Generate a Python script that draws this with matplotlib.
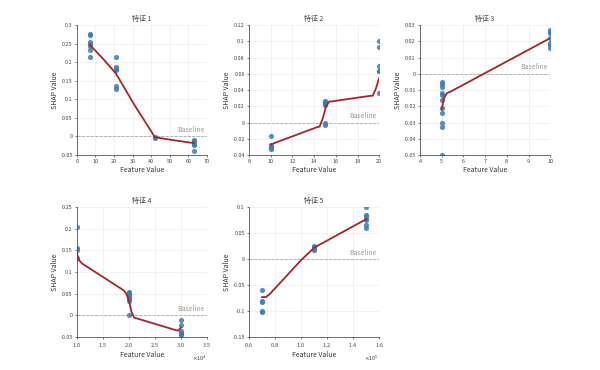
import numpy as np
import matplotlib.pyplot as plt
from matplotlib.ticker import ScalarFormatter

plt.rcParams['font.family'] = ['Noto Sans CJK SC', 'DejaVu Sans']

titles = ["特征 1", "特征 2", "特征 3", "特征 4", "特征 5"]

# scatter points (feature value, shap value)
f1_x = [7, 7, 7, 7, 7, 7, 7, 21, 21, 21, 21, 21, 21, 42, 42, 63, 63, 63, 63, 63]
f1_y = [0.275, 0.273, 0.255, 0.25, 0.245, 0.232, 0.215,
        0.213, 0.188, 0.183, 0.18, 0.137, 0.127,
        -0.002, -0.003, -0.01, -0.013, -0.02, -0.022, -0.04]
f1_line_x = [7, 14, 21, 31, 42, 52, 63]
f1_line_y = [0.247, 0.21, 0.17, 0.085, -0.002, -0.01, -0.018]

f2_x = [10, 10, 10, 10, 10, 15, 15, 15, 15, 15, 15, 20, 20, 20, 20, 20, 20]
f2_y = [-0.016, -0.028, -0.03, -0.031, -0.033,
        0.027, 0.025, 0.023, 0.022, -0.001, -0.003,
        0.101, 0.093, 0.07, 0.064, 0.063, 0.036]
f2_line_x = [10, 14.2, 14.5, 14.8, 15.1, 15.4, 15.6, 19.2, 19.4, 19.7, 20]
f2_line_y = [-0.027, -0.006, -0.005, 0.005, 0.02, 0.026, 0.026, 0.033, 0.033, 0.042, 0.055]

f3_x = [5] * 11 + [10] * 7
f3_y = [-0.005, -0.006, -0.008, -0.012, -0.013, -0.016, -0.021, -0.024, -0.03, -0.033, -0.05,
        0.027, 0.026, 0.025, 0.022, 0.019, 0.018, 0.016]
f3_line_x = [5, 5.1, 5.25, 5.4, 10]
f3_line_y = [-0.022, -0.015, -0.0118, -0.011, 0.022]

f4_x = [10000] * 4 + [20000] * 7 + [30000] * 6
f4_y = [0.205, 0.155, 0.15, 0.132,
        0.055, 0.052, 0.048, 0.043, 0.038, 0.033, 0.0,
        -0.01, -0.022, -0.035, -0.04, -0.043, -0.045]
f4_line_x = [10000, 10400, 11000, 19000, 19500, 20000, 20500, 21000, 29000, 29500, 30000]
f4_line_y = [0.145, 0.128, 0.12, 0.058, 0.05, 0.035, 0.008, -0.005, -0.034, -0.035, -0.028]

f5_x = [70000] * 5 + [110000] * 4 + [150000] * 7
f5_y = [-0.06, -0.08, -0.082, -0.1, -0.102,
        0.025, 0.023, 0.02, 0.018,
        0.1, 0.085, 0.083, 0.077, 0.075, 0.065, 0.06]
f5_line_x = [70000, 73000, 76000, 100000, 110000, 150000]
f5_line_y = [-0.073, -0.073, -0.067, -0.002, 0.022, 0.077]

xs = [f1_x, f2_x, f3_x, f4_x, f5_x]
ys = [f1_y, f2_y, f3_y, f4_y, f5_y]
lxs = [f1_line_x, f2_line_x, f3_line_x, f4_line_x, f5_line_x]
lys = [f1_line_y, f2_line_y, f3_line_y, f4_line_y, f5_line_y]

xlims = [(0, 70), (8, 20), (4, 10), (10000, 35000), (60000, 160000)]
ylims = [(-0.05, 0.3), (-0.04, 0.12), (-0.05, 0.03), (-0.05, 0.25), (-0.15, 0.1)]
xticks = [np.arange(0, 71, 10), np.arange(8, 21, 2), np.arange(4, 11, 1),
          np.arange(10000, 35001, 5000), np.arange(60000, 160001, 20000)]
yticks = [np.arange(-0.05, 0.301, 0.05), np.arange(-0.04, 0.121, 0.02), np.arange(-0.05, 0.031, 0.01),
          np.arange(-0.05, 0.251, 0.05), np.arange(-0.15, 0.101, 0.05)]

# axes positions in figure fractions
positions = [(0.128, 0.581), (0.415, 0.581), (0.70, 0.581),
             (0.128, 0.089), (0.415, 0.089)]
w, h = 0.217, 0.351

fig = plt.figure(figsize=(6, 3.7), dpi=100)
for i in range(5):
    ax = fig.add_axes([positions[i][0], positions[i][1], w, h])
    ax.grid(True, color='#ececec', linewidth=0.5)
    ax.set_axisbelow(True)
    ax.axhline(0, color='#aaaaaa', linestyle='--', linewidth=0.6, zorder=1)
    ax.scatter(xs[i], ys[i], s=14, color='#3a7db3', alpha=0.85, linewidths=0, zorder=2)
    ax.plot(lxs[i], lys[i], color='#a3262a', linewidth=1.3, zorder=3)
    ax.set_xlim(xlims[i])
    ax.set_ylim(ylims[i])
    ax.set_xticks(xticks[i])
    ax.set_yticks(yticks[i])
    if i >= 3:
        fmt = ScalarFormatter(useMathText=True)
        fmt.set_scientific(True)
        fmt.set_powerlimits((0, 0))
        ax.xaxis.set_major_formatter(fmt)
        ax.xaxis.get_offset_text().set_fontsize(4)
    ax.yaxis.set_major_formatter(plt.FuncFormatter(lambda v, p: f"{v:g}" if abs(v) > 1e-12 else "0"))
    ax.tick_params(labelsize=4, length=1.5, width=0.5, colors='#444444', pad=1.5)
    for s in ['top', 'right']:
        ax.spines[s].set_visible(False)
    for s in ['left', 'bottom']:
        ax.spines[s].set_linewidth(0.6)
        ax.spines[s].set_color('#555555')
    ax.set_title(titles[i], fontsize=5, pad=3, color='#444444')
    ax.set_xlabel("Feature Value", fontsize=5, labelpad=1, color='#333333')
    ax.set_ylabel("SHAP Value", fontsize=5, labelpad=1, color='#333333')
    x0, x1 = xlims[i]
    y0, y1 = ylims[i]
    ax.text(x1 - 0.02 * (x1 - x0), 0.02 * (y1 - y0), "Baseline",
            ha='right', va='bottom', fontsize=5, color='#999999')

fig.savefig("out.png", dpi=100)
